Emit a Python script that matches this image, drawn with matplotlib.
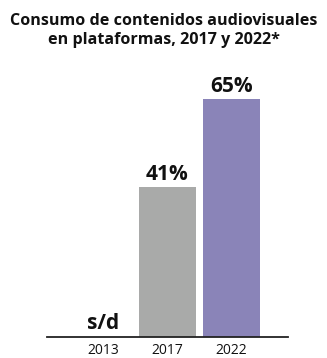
import matplotlib.pyplot as plt

plt.rcParams['font.family'] = ['Open Sans', 'DejaVu Sans']

years = ['2013', '2017', '2022']
values = [0, 41, 65]
labels = ['s/d', '41%', '65%']
colors = ['#ffffff', '#a9aaa9', '#8a84b8']

fig = plt.figure(figsize=(3.27, 3.58), dpi=100)
ax = fig.add_axes([47 / 327, 21.5 / 358, 241 / 327, 276.5 / 358])

x = range(len(years))
ax.bar(x, values, width=0.89, color=colors)
for i, (v, lab) in enumerate(zip(values, labels)):
    ax.text(i, v + 0.6, lab, ha='center', va='bottom', fontsize=15, fontweight='bold', color='#111111')

ax.set_xlim(-0.88, 2.88)
ax.set_ylim(0, 75.7)
ax.set_xticks(list(x))
ax.set_xticklabels(years, fontsize=10, color='#111111')
ax.tick_params(axis='x', length=0, pad=4.5)
ax.set_yticks([])
for s in ['top', 'right', 'left']:
    ax.spines[s].set_visible(False)
ax.spines['bottom'].set_color('#222222')
ax.spines['bottom'].set_linewidth(1.3)

fig.text(0.5, 0.965, 'Consumo de contenidos audiovisuales\nen plataformas, 2017 y 2022*',
         ha='center', va='top', fontsize=11.6, fontweight='bold', color='#111111', linespacing=1.25)

fig.savefig('out.png', dpi=100)
